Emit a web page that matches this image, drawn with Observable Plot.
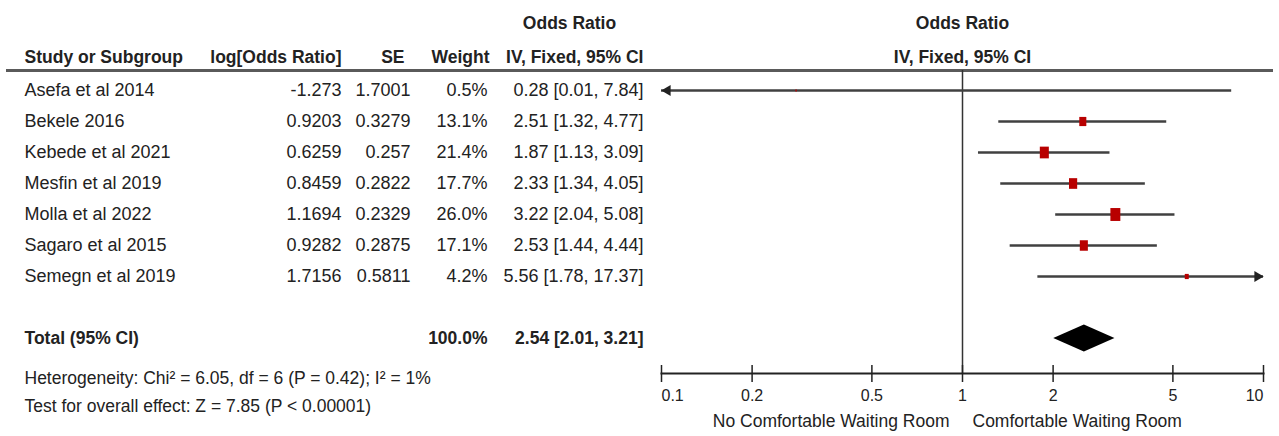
<!DOCTYPE html>
<html><head><meta charset="utf-8">
<script src="https://cdn.jsdelivr.net/npm/d3@7"></script>
<script src="https://cdn.jsdelivr.net/npm/@observablehq/plot@0.6"></script>
<style>
body{margin:0;background:#fff}
#chart svg{display:block}
</style></head><body><div id="chart"></div>
<script>
// ---- data ----
const studies = ["Asefa et al 2014","Bekele 2016","Kebede et al 2021","Mesfin et al 2019","Molla et al 2022","Sagaro et al 2015","Semegn et al 2019"];
const logOR = ["-1.273","0.9203","0.6259","0.8459","1.1694","0.9282","1.7156"];
const se = ["1.7001","0.3279","0.257","0.2822","0.2329","0.2875","0.5811"];
const weight = [0.5,13.1,21.4,17.7,26.0,17.1,4.2];
const oddsRatio = [0.28,2.51,1.87,2.33,3.22,2.53,5.56];
const ciLower = [0.01,1.32,1.13,1.34,2.04,1.44,1.78];
const ciUpper = [7.84,4.77,3.09,4.05,5.08,4.44,17.37];
const totalLabel = "Total (95% CI)";
const totalWeight = 100.0;
const totalOR = 2.54, totalLower = 2.01, totalUpper = 3.21;
const heterogeneity = "Heterogeneity: Chi² = 6.05, df = 6 (P = 0.42); I² = 1%";
const overallEffect = "Test for overall effect: Z = 7.85 (P < 0.00001)";
const headers = ["Study or Subgroup","log[Odds Ratio]","SE","Weight","IV, Fixed, 95% CI"];
const measureTitle = "Odds Ratio";
const xTicks = [0.1,0.2,0.5,1,2,5,10];
const favours = ["No Comfortable Waiting Room","Comfortable Waiting Room"];

// ---- derived ----
const rows = studies.map((s,i)=>({study:s, logOR:logOR[i], se:se[i], weight:weight[i], or:oddsRatio[i], lo:ciLower[i], hi:ciUpper[i]}));
const total = {study: totalLabel, weight: totalWeight, or: totalOR, lo: totalLower, hi: totalUpper};
const fmtW = d => d.weight.toFixed(1) + "%";
const fmtCI = d => `${d.or.toFixed(2)} [${d.lo.toFixed(2)}, ${d.hi.toFixed(2)}]`;
const xMin = xTicks[0], xMax = xTicks[xTicks.length-1];
const clamp = v => Math.max(xMin, Math.min(xMax, v));
const yDomain = [...studies, " ", totalLabel];

// ---- layout ----
const W = 1279, H = 436, ML = 661, MR = 16, MT = 70, MB = 63;
const FONT = "'Liberation Sans', Arial, sans-serif";
const TXT = "#222";
const colX = {study: 24, logOR: 341, se: 410, weight: 487, ci: 643, title: 569};
const dxOf = px => px - ML;
const headY = 57, titleY = 23;

const tallSquare = {draw(ctx, size){ const w = Math.sqrt(size/1.3), h = w*1.3; ctx.rect(-w/2, -h/2, w, h); }};

function labelAt(text, px, py, o = {}) {
  return Plot.text([text], {text: d => d, frameAnchor: "top-left", lineAnchor: "middle", dx: dxOf(px), dy: py - MT, fill: TXT, ...o});
}

function diamond(index, scales) {
  const x = scales.x, y = scales.y;
  const cy = y(totalLabel), h = 13.5;
  const pts = [[x(totalLower), cy],[x(totalOR), cy - h],[x(totalUpper), cy],[x(totalOR), cy + h]];
  return d3.create("svg:path").attr("d", "M" + pts.map(p => p.join(",")).join("L") + "Z").attr("fill", "#000").node();
}

const bold = {fontWeight: "bold", fontSize: 17.5};

const chart = Plot.plot({
  width: W, height: H,
  marginLeft: ML, marginRight: MR, marginTop: MT, marginBottom: MB,
  style: {fontFamily: FONT, fontSize: "18px", color: TXT, background: "#fff", overflow: "visible"},
  x: {type: "log", domain: [xMin, xMax], axis: null},
  y: {type: "point", domain: yDomain, range: [87.5, 340.5], padding: 0, axis: null},
  r: {type: "sqrt", domain: [0, 26], range: [0, 6.4]},
  marks: [
    // header line
    Plot.frame({anchor: "top", insetLeft: -(ML - 7), insetRight: -8, stroke: "#5a5a5a", strokeWidth: 3}),
    // headers
    labelAt(measureTitle, colX.title, titleY, {textAnchor: "middle", ...bold}),
    labelAt(headers[0], colX.study, headY, {textAnchor: "start", ...bold}),
    labelAt(headers[1], colX.logOR, headY, {textAnchor: "end", ...bold}),
    labelAt(headers[2], 404, headY, {textAnchor: "end", ...bold}),
    labelAt(headers[3], 489, headY, {textAnchor: "end", ...bold}),
    labelAt(headers[4], colX.ci, headY, {textAnchor: "end", ...bold}),
    Plot.text([measureTitle], {x: () => 1, frameAnchor: "top", lineAnchor: "middle", dy: titleY - MT, fill: TXT, ...bold}),
    Plot.text([headers[4]], {x: () => 1, frameAnchor: "top", lineAnchor: "middle", dy: headY - MT, fill: TXT, ...bold}),
    // study rows
    Plot.text(rows, {y: "study", text: "study", frameAnchor: "left", dx: dxOf(colX.study), textAnchor: "start", fill: TXT}),
    Plot.text(rows, {y: "study", text: "logOR", frameAnchor: "left", dx: dxOf(colX.logOR), textAnchor: "end", fill: TXT}),
    Plot.text(rows, {y: "study", text: "se", frameAnchor: "left", dx: dxOf(colX.se), textAnchor: "end", fill: TXT}),
    Plot.text(rows, {y: "study", text: fmtW, frameAnchor: "left", dx: dxOf(colX.weight), textAnchor: "end", fill: TXT}),
    Plot.text(rows, {y: "study", text: fmtCI, frameAnchor: "left", dx: dxOf(colX.ci), textAnchor: "end", fill: TXT}),
    // total row
    Plot.text([total], {y: "study", text: "study", frameAnchor: "left", dx: dxOf(colX.study), textAnchor: "start", fill: TXT, ...bold}),
    Plot.text([total], {y: "study", text: fmtW, frameAnchor: "left", dx: dxOf(colX.weight), textAnchor: "end", fill: TXT, ...bold}),
    Plot.text([total], {y: "study", text: fmtCI, frameAnchor: "left", dx: dxOf(colX.ci), textAnchor: "end", fill: TXT, ...bold}),
    // footnotes
    labelAt(heterogeneity, colX.study, 378, {textAnchor: "start", fontSize: 17.5}),
    labelAt(overallEffect, colX.study, 406, {textAnchor: "start", fontSize: 17.5}),
    // line of no effect
    Plot.ruleX([1], {stroke: "#333", strokeWidth: 1.5}),
    // CIs
    Plot.ruleY(rows, {y: "study", x1: d => clamp(d.lo), x2: d => clamp(d.hi), stroke: "#404040", strokeWidth: 2.5}),
    Plot.dot(rows.filter(d => d.lo < xMin), {x: () => xMin, y: "study", symbol: "triangle", rotate: -90, r: 4, fill: "#222", stroke: "none", dx: 6}),
    Plot.dot(rows.filter(d => d.hi > xMax), {x: () => xMax, y: "study", symbol: "triangle", rotate: 90, r: 4, fill: "#222", stroke: "none", dx: -6}),
    // point estimates
    Plot.dot(rows, {x: "or", y: "study", r: "weight", symbol: tallSquare, fill: "#b80000", stroke: "none"}),
    // pooled diamond
    diamond,
    // axis
    Plot.frame({anchor: "bottom", stroke: "#222", strokeWidth: 2}),
    Plot.tickX(xTicks, {x: d => d, insetTop: (H - MB - MT) - 8, insetBottom: -9, stroke: "#222", strokeWidth: 1.5}),
    Plot.text(xTicks.slice(0,1), {x: d => d, text: d => String(d), frameAnchor: "bottom", lineAnchor: "middle", dy: 22, textAnchor: "start", fill: TXT, fontSize: 16}),
    Plot.text(xTicks.slice(1,-1), {x: d => d, text: d => String(d), frameAnchor: "bottom", lineAnchor: "middle", dy: 22, textAnchor: "middle", fill: TXT, fontSize: 16}),
    Plot.text(xTicks.slice(-1), {x: d => d, text: d => String(d), frameAnchor: "bottom", lineAnchor: "middle", dy: 22, textAnchor: "end", fill: TXT, fontSize: 16}),
    Plot.text([favours[0]], {x: () => 1, text: d => d, frameAnchor: "bottom", lineAnchor: "middle", dy: 48, dx: -13, textAnchor: "end", fill: TXT, fontSize: 17.5}),
    Plot.text([favours[1]], {x: () => 1, text: d => d, frameAnchor: "bottom", lineAnchor: "middle", dy: 48, dx: 10, textAnchor: "start", fill: TXT, fontSize: 17.5})
  ]
});
document.getElementById("chart").appendChild(chart);
</script>
</body></html>
